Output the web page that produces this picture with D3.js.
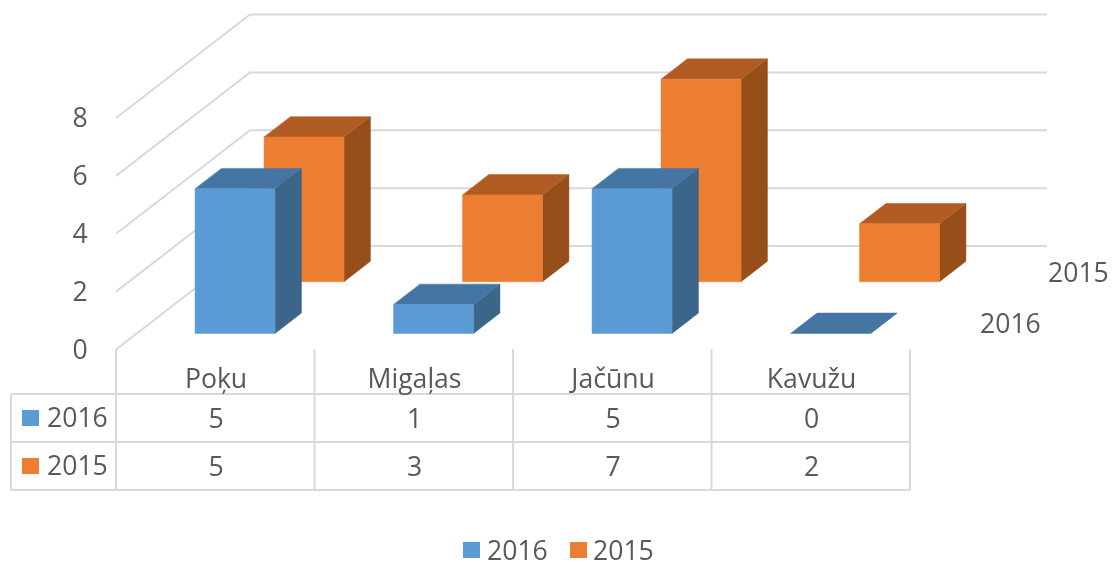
<!DOCTYPE html>
<html><head><meta charset="utf-8">
<script src="https://cdn.jsdelivr.net/npm/d3@7"></script>
<style>html,body{margin:0;padding:0;background:#fff}svg{display:block;filter:blur(.45px)}text{font-family:"Open Sans",sans-serif;font-size:26.6px;fill:#595959}</style>
</head><body><svg id="c" width="1114" height="564"></svg>
<script>
const categories = ["Poķu","Migaļas","Jačūnu","Kavužu"];
const seriesNames = ["2016","2015"];
const values2016 = [5,1,5,0];
const values2015 = [5,3,7,2];
const yTicks = [0,2,4,6,8];
const seriesValues = {"2016":values2016,"2015":values2015};
const colors = {"2016":{front:"#5B9BD5",top:"#4575A2",side:"#3B6689"},"2015":{front:"#ED7D31",top:"#B15C22",side:"#964F1B"}};

const svg = d3.select("#c");
const x = d3.scaleBand().domain(categories).range([116,910]).paddingInner(.597).paddingOuter(.2985);
const y = d3.scaleLinear().domain([0,8]).range([349.5,118]);
const depth = d3.scalePoint().domain(seriesNames).range([.155,.655]);
const dX = t=>134*t, dY = t=>-103.5*t, barDepth=.197;
const barX = t=>138*t-1.6;
const grid="#D9D9D9";
const label=(px,py,txt,anchor)=>svg.append("text").attr("x",px).attr("y",py).attr("dy",".36em").attr("text-anchor",anchor||"start").text(txt);

const g = svg.append("g").attr("fill","none").attr("stroke",grid).attr("stroke-width",2);
yTicks.forEach(v=>{
  g.append("path").attr("d",d3.line()([[116,y(v)],[116+dX(1),y(v)+dY(1)],[1047,y(v)+dY(1)]]));
});

["2015","2016"].forEach(s=>{
  const t=depth(s), c=colors[s];
  categories.forEach((cat,i)=>{
    const v=seriesValues[s][i];
    const x0=x(cat)+barX(t), x1=x0+x.bandwidth();
    const b=y(0)+dY(t), h=y(v)+dY(t);
    const ox=dX(barDepth), oy=dY(barDepth);
    const line=d3.line();
    const add=(pts,col)=>svg.append("path").attr("d",line(pts)+"Z").attr("fill",col).attr("stroke",col).attr("stroke-width",.5);
    add([[x1,b],[x1+ox,b+oy],[x1+ox,h+oy],[x1,h]],c.side);
    add([[x0,h],[x0+ox,h+oy],[x1+ox,h+oy],[x1,h]],c.top);
    if(v>0) add([[x0,b],[x1,b],[x1,h],[x0,h]],c.front);
  });
});

yTicks.forEach(v=>label(80,y(v)-.5,v,"middle"));

const rows=[394,442,490], tableLeft=11, tableRight=910, tableTop=349;
const tg=svg.append("g").attr("stroke",grid).attr("stroke-width",2);
rows.forEach(r=>tg.append("line").attr("x1",tableLeft).attr("x2",tableRight).attr("y1",r).attr("y2",r));
tg.append("line").attr("x1",tableLeft).attr("x2",tableLeft).attr("y1",rows[0]).attr("y2",rows[2]);
const edges=[116,...categories.map(c=>x(c)+x.bandwidth()+x.step()*.2985)];
edges.forEach(e=>tg.append("line").attr("x1",e).attr("x2",e).attr("y1",tableTop).attr("y2",rows[2]));
categories.forEach((cat,i)=>{
  const cx=x(cat)+x.bandwidth()/2+.8;
  label(cx,378,cat,"middle");
  seriesNames.forEach((s,j)=>label(cx,418+48*j,seriesValues[s][i],"middle"));
});
seriesNames.forEach((s,j)=>{
  svg.append("rect").attr("x",22).attr("y",410+48*j).attr("width",17).attr("height",16).attr("fill",colors[s].front);
  label(47,417+48*j,s);
});
[["2015",1048,272],["2016",980,323]].forEach(d=>label(d[1],d[2],d[0]));
seriesNames.forEach((s,j)=>{
  svg.append("rect").attr("x",463+107*j).attr("y",542).attr("width",17).attr("height",16).attr("fill",colors[s].front);
  label(487+106*j,550,s);
});
</script></body></html>
